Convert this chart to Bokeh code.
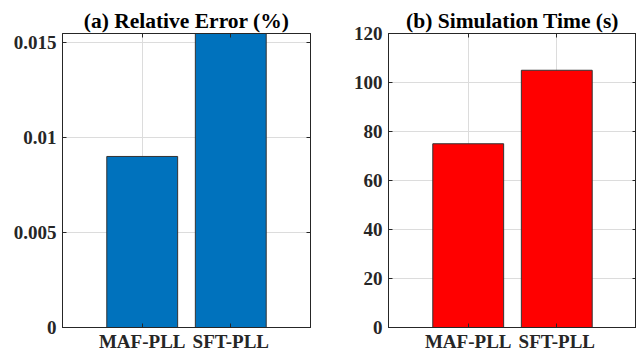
from bokeh.plotting import figure
from bokeh.layouts import row
from bokeh.models import Range1d, FixedTicker, LinearAxis
from bokeh.embed import file_html
from bokeh.resources import INLINE

# Data
methods = ["MAF-PLL", "SFT-PLL"]
positions = [1, 2]
rel_error = [0.009, 0.0158]      # relative error (%)
sim_time = [75, 105]             # simulation time (s)

err_ticks = [0, 0.005, 0.01, 0.015]
err_tick_labels = ["0", "0.005", "0.01", "0.015"]
time_ticks = [0, 20, 40, 60, 80, 100, 120]

FONT = "Liberation Serif"
AX = "#262626"


def mirror_axis(ticks):
    # box-style tick marks on the top/right edges, no labels
    return LinearAxis(ticker=FixedTicker(ticks=ticks), major_label_text_color=None,
                      major_label_standoff=0, major_tick_in=4, major_tick_out=0,
                      minor_tick_line_color=None, axis_line_color=AX,
                      major_tick_line_color=AX)


def make_panel(title, values, color, y_end, yticks, ylabels, border_left, border_right):
    p = figure(width=border_left + 248 + border_right, height=354,
               x_range=Range1d(0.1, 2.9), y_range=Range1d(0, y_end),
               output_backend="svg", toolbar_location=None,
               min_border_left=border_left, min_border_right=border_right,
               min_border_top=33, min_border_bottom=24)
    p.title.text = title
    p.title.align = "center"
    p.title.text_font = FONT
    p.title.text_font_size = "21.5px"
    p.title.text_font_style = "bold"
    p.title.text_color = "#000000"
    p.title.standoff = 1

    p.vbar(x=positions, top=values, width=0.8, fill_color=color,
           line_color="#333333", line_width=1)

    p.xaxis.ticker = FixedTicker(ticks=positions)
    p.xaxis.major_label_overrides = {pos: m for pos, m in zip(positions, methods)}
    p.yaxis.ticker = FixedTicker(ticks=yticks)
    p.yaxis.major_label_overrides = {t: l for t, l in zip(yticks, ylabels)}

    for ax in (p.xaxis[0], p.yaxis[0]):
        ax.major_label_text_font = FONT
        ax.major_label_text_font_size = "19px"
        ax.major_label_text_font_style = "bold"
        ax.major_label_text_color = AX
        ax.axis_line_color = AX
        ax.major_tick_line_color = AX
        ax.major_tick_in = 4
        ax.major_tick_out = 0
        ax.minor_tick_line_color = None
    p.yaxis[0].major_label_standoff = 6
    p.xaxis[0].major_label_standoff = 3

    p.add_layout(mirror_axis(positions), "above")
    p.add_layout(mirror_axis(yticks), "right")

    p.xgrid.ticker = FixedTicker(ticks=positions)
    p.ygrid.ticker = FixedTicker(ticks=yticks)
    p.grid.grid_line_color = "#dcdcdc"
    p.grid.grid_line_width = 1
    p.outline_line_color = AX
    p.background_fill_color = "white"
    p.border_fill_color = "white"
    return p


p1 = make_panel("(a) Relative Error (%)", rel_error, "#0072BD", 0.01547,
                err_ticks, err_tick_labels, 62, 8)
p2 = make_panel("(b) Simulation Time (s)", sim_time, "#FF0000", 120,
                time_ticks, [str(t) for t in time_ticks], 70, 0)

layout = row(p1, p2)
open("out.html", "w").write(file_html(layout, INLINE))
